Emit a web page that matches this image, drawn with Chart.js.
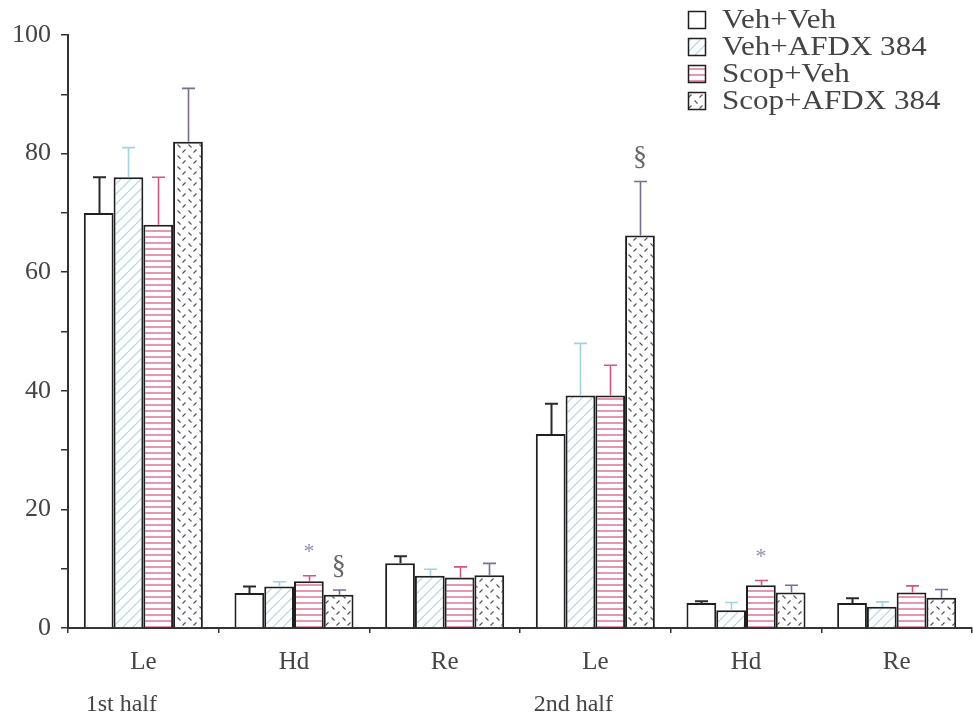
<!DOCTYPE html>
<html>
<head>
<meta charset="utf-8">
<script src="https://cdn.jsdelivr.net/npm/chart.js@4"></script>
<style>
  html, body { margin: 0; padding: 0; background: #fff; }
  #c { display: block; }
</style>
</head>
<body>
<canvas id="c" width="973" height="725"></canvas>
<script>
// Categories along the x axis and the session each group belongs to
const categories = ['Le', 'Hd', 'Re', 'Le', 'Hd', 'Re'];
const halves = ['1st half', '', '', '2nd half', '', ''];
const seriesNames = ['Veh+Veh', 'Veh+AFDX 384', 'Scop+Veh', 'Scop+AFDX 384'];

// Group means
const vehVeh     = [70.0, 5.9, 10.9, 32.7, 4.2, 4.2];
const vehAfdx    = [76.0, 7.0,  8.8, 39.2, 3.0, 3.6];
const scopVeh    = [68.0, 7.9,  8.5, 39.2, 7.2, 6.0];
const scopAfdx   = [82.0, 5.6,  8.9, 66.2, 6.0, 5.1];

// SEM (upper error bars only)
const vehVehErr   = [6.0, 1.1, 1.2, 5.1, 0.3, 0.8];
const vehAfdxErr  = [5.0, 0.8, 1.1, 8.8, 1.3, 0.8];
const scopVehErr  = [8.0, 0.9, 1.8, 5.1, 0.8, 1.1];
const scopAfdxErr = [9.0, 0.8, 2.0, 9.1, 1.2, 1.4];

// Y axis
const yMin = 0, yMax = 100, yStep = 10, yLabelEvery = 20;

// Significance symbols: series index, category index, symbol
const sigSeries   = [2, 3, 3, 2];
const sigCategory = [1, 1, 3, 4];
const sigSymbol   = ['*', '\u00A7', '\u00A7', '*'];

const values = [vehVeh, vehAfdx, scopVeh, scopAfdx];
const errors = [vehVehErr, vehAfdxErr, scopVehErr, scopAfdxErr];

const SERIF = '"Liberation Serif", "DejaVu Serif", serif';
const TEXT = '#444444';
const INK = '#1f1f1f';
const errColors = ['#2a2a2a', '#9fd3e0', '#d4567e', '#7a6d90'];

// ---- fill patterns ----
function makeTile(w, h, draw) {
  const cv = document.createElement('canvas');
  cv.width = w; cv.height = h;
  const g = cv.getContext('2d');
  g.fillStyle = '#fff';
  g.fillRect(0, 0, w, h);
  draw(g, w, h);
  return document.createElement('canvas').getContext('2d').createPattern(cv, 'repeat');
}
const plainFill = '#ffffff';
const diagFill = makeTile(10, 10, (g, w, h) => {
  g.strokeStyle = '#a6d8e4';
  g.lineWidth = 1.1;
  g.beginPath();
  g.moveTo(-1, h + 1); g.lineTo(w + 1, -1);
  g.moveTo(-1, 1); g.lineTo(1, -1);
  g.moveTo(w - 1, h + 1); g.lineTo(w + 1, h - 1);
  g.stroke();
});
const horizFill = makeTile(6, 6, (g, w) => {
  g.strokeStyle = '#d4517b';
  g.lineWidth = 1.2;
  g.beginPath();
  g.moveTo(0, 3); g.lineTo(w, 3);
  g.stroke();
});
const dashFill = makeTile(11, 11, (g) => {
  g.strokeStyle = '#4e4e5a';
  g.lineWidth = 1.1;
  g.beginPath();
  g.moveTo(1.5, 1.5); g.lineTo(4.5, 4.5);
  g.moveTo(6.5, 9.5); g.lineTo(9.5, 6.5);
  g.stroke();
});
const fills = [plainFill, diagFill, horizFill, dashFill];

// ---- error bars ----
const errorBars = {
  id: 'errorBars',
  afterDatasetsDraw(chart) {
    const ctx = chart.ctx;
    const y = chart.scales.y;
    ctx.save();
    values.forEach((vals, i) => {
      const meta = chart.getDatasetMeta(i);
      ctx.strokeStyle = errColors[i];
      ctx.lineWidth = i === 0 ? 2 : 1.6;
      meta.data.forEach((bar, j) => {
        const top = y.getPixelForValue(vals[j] + errors[i][j]);
        const x = Math.round(bar.x) + 0.5;
        ctx.beginPath();
        ctx.moveTo(x, bar.y);
        ctx.lineTo(x, top);
        ctx.moveTo(x - 6.5, top);
        ctx.lineTo(x + 6.5, top);
        ctx.stroke();
      });
    });
    ctx.restore();
  }
};

// ---- significance symbols ----
const sigMarks = {
  id: 'sigMarks',
  afterDatasetsDraw(chart) {
    const ctx = chart.ctx;
    const y = chart.scales.y;
    ctx.save();
    ctx.textAlign = 'center';
    ctx.textBaseline = 'alphabetic';
    sigSymbol.forEach((sym, k) => {
      const s = sigSeries[k], c = sigCategory[k];
      const bar = chart.getDatasetMeta(s).data[c];
      const top = y.getPixelForValue(values[s][c] + errors[s][c]);
      if (sym === '*') {
        ctx.fillStyle = '#8a8fb2';
        ctx.font = '22px ' + SERIF;
        ctx.fillText(sym, bar.x, top - 18);
      } else {
        ctx.fillStyle = '#666';
        ctx.font = '28px ' + SERIF;
        ctx.fillText(sym, bar.x, top - 16);
      }
    });
    ctx.restore();
  }
};

// ---- session labels under the category labels ----
const halfLabels = {
  id: 'halfLabels',
  afterDraw(chart) {
    const ctx = chart.ctx;
    const x = chart.scales.x;
    ctx.save();
    ctx.font = '24px ' + SERIF;
    ctx.fillStyle = TEXT;
    ctx.textAlign = 'center';
    ctx.textBaseline = 'middle';
    halves.forEach((h, i) => {
      if (!h) return;
      ctx.fillText(h, x.getPixelForValue(i) - 22, x.top + 77);
    });
    ctx.restore();
  }
};

// ---- legend box in the upper right ----
const boxLegend = {
  id: 'boxLegend',
  afterDraw(chart) {
    const ctx = chart.ctx;
    ctx.save();
    ctx.font = '27px ' + SERIF;
    ctx.textBaseline = 'middle';
    ctx.textAlign = 'left';
    seriesNames.forEach((name, i) => {
      const bx = 688, by = 11 + i * 27, size = 17;
      ctx.fillStyle = fills[i];
      ctx.fillRect(bx, by, size, size);
      ctx.strokeStyle = INK;
      ctx.lineWidth = 1.5;
      ctx.strokeRect(bx + 0.5, by + 0.5, size, size);
      // slightly widened lettering
      ctx.save();
      ctx.translate(722, by + size / 2 + 1);
      ctx.scale(1.15, 1);
      ctx.fillStyle = TEXT;
      ctx.fillText(name, 0, 0);
      ctx.restore();
    });
    ctx.restore();
  }
};

new Chart(document.getElementById('c'), {
  type: 'bar',
  data: {
    labels: categories,
    datasets: values.map((v, i) => ({
      label: seriesNames[i],
      data: v,
      backgroundColor: fills[i],
      borderColor: INK,
      borderWidth: 2,
      borderSkipped: 'start',
      categoryPercentage: 0.79,
      barPercentage: 1.0
    }))
  },
  options: {
    responsive: false,
    devicePixelRatio: 1,
    animation: false,
    layout: { padding: { top: 35, right: 1, left: 0, bottom: 0 } },
    plugins: { legend: { display: false }, tooltip: { enabled: false } },
    scales: {
      x: {
        offset: true,
        grid: { offset: true, drawOnChartArea: false, tickLength: 5, color: '#333', lineWidth: 1.5 },
        border: { color: '#333', width: 2 },
        ticks: { font: { family: SERIF, size: 25 }, color: TEXT, padding: 14, maxRotation: 0 },
        afterFit(s) { s.height = 97; }
      },
      y: {
        min: yMin, max: yMax,
        grid: { drawOnChartArea: false, tickLength: 7, color: '#333', lineWidth: 1.5 },
        border: { color: '#333', width: 2 },
        ticks: {
          stepSize: yStep,
          font: { family: SERIF, size: 26 },
          color: TEXT,
          padding: 10,
          callback: v => (v % yLabelEvery === 0 ? String(v) : '')
        },
        afterFit(s) { s.width = 68; }
      }
    }
  },
  plugins: [errorBars, sigMarks, halfLabels, boxLegend]
});
</script>
</body>
</html>
